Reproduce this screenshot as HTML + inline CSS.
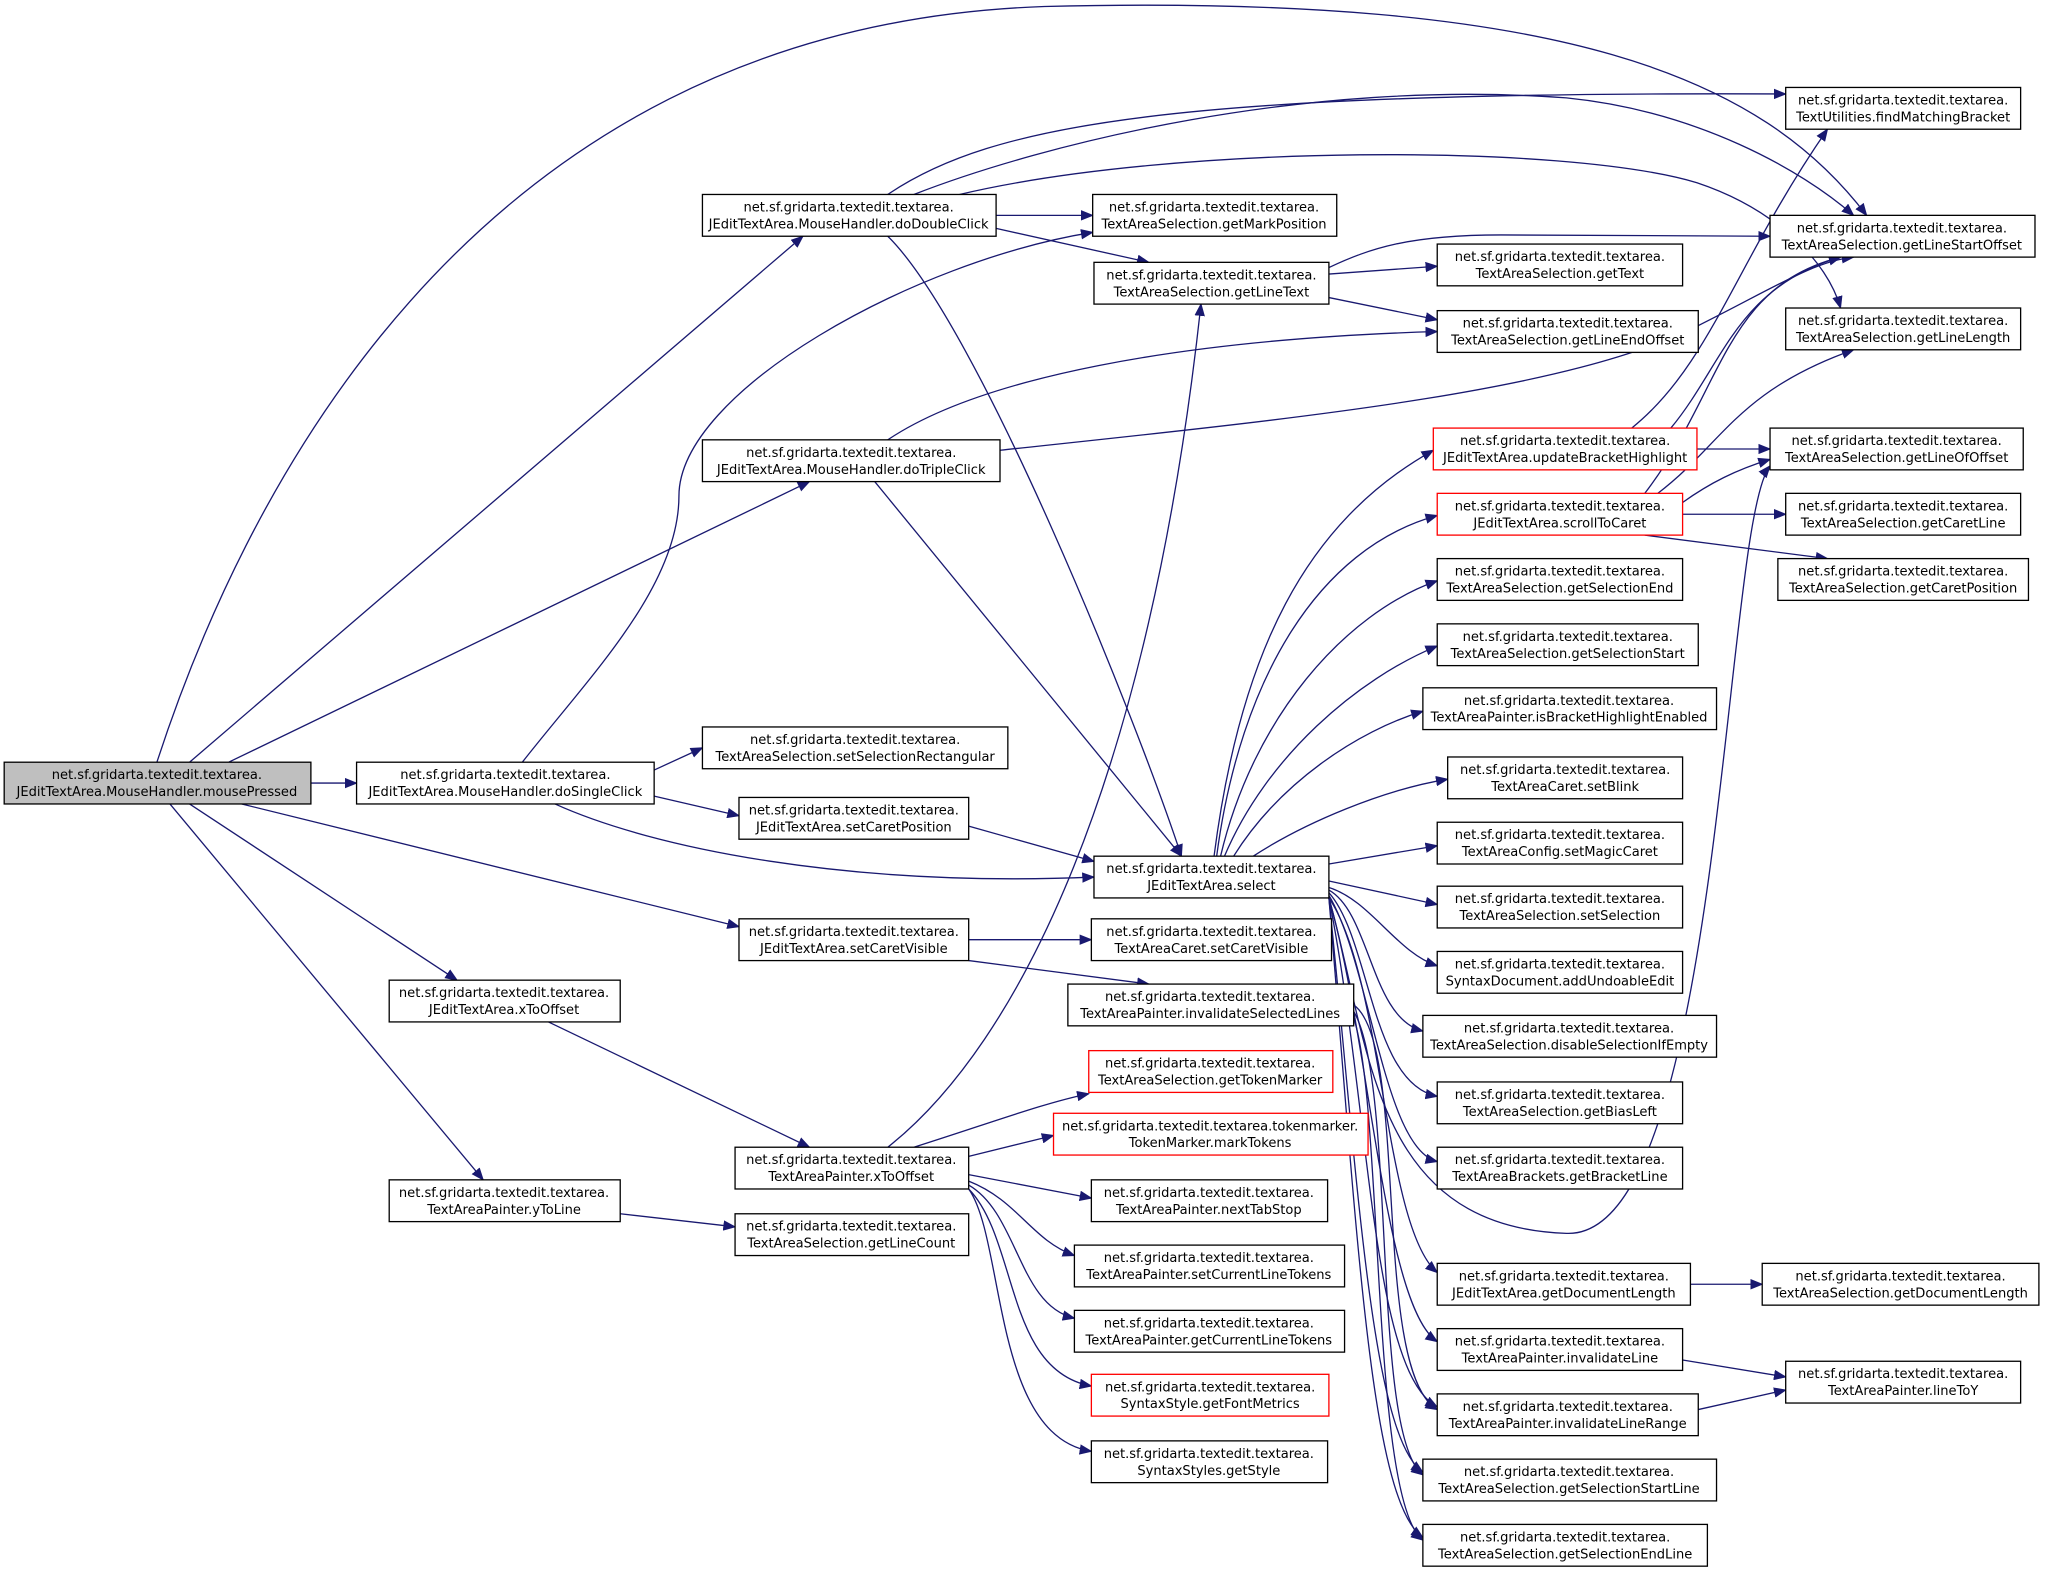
<!DOCTYPE html>
<html><head><meta charset="utf-8"><style>
html,body{margin:0;padding:0;background:#fff;}
svg text{font-family:"DejaVu Sans","Liberation Sans",sans-serif;font-size:10px;fill:#000;}
</style></head><body>
<svg width="2047" height="1574" viewBox="0 0 1568 1206" xmlns="http://www.w3.org/2000/svg">
<defs><marker id="a" markerWidth="10" markerHeight="8" refX="9" refY="4" orient="auto" markerUnits="userSpaceOnUse"><path d="M0,0 L10,4 L0,8 z" fill="#191970"/></marker></defs>
<g fill="none" stroke="#191970" stroke-width="1" marker-end="url(#a)">
<path d="M145,584 L615,181"/>
<path d="M175,584 L620,369"/>
<path d="M120,584 C180,400 350,20 800,5 C1200,-5 1350,60 1430,165"/>
<path d="M238,600 L273,600"/>
<path d="M185,616 L566,710"/>
<path d="M145,616 L350,751"/>
<path d="M130,616 L370,904"/>
<path d="M680,149 C760,95 900,70 1368,72"/>
<path d="M700,149 C800,110 1000,60 1200,75 C1300,85 1380,130 1420,165"/>
<path d="M735,149 C900,110 1200,110 1300,140 C1360,160 1400,200 1410,236"/>
<path d="M763,165 L837,165"/>
<path d="M763,175 L880,201"/>
<path d="M680,181 C750,250 870,550 905,656"/>
<path d="M680,337 C750,290 900,260 1101,254"/>
<path d="M766,345 C1000,320 1200,300 1300,250 C1360,220 1390,200 1420,197"/>
<path d="M670,369 L905,656"/>
<path d="M400,584 C450,520 520,450 520,380 C520,300 700,200 837,178"/>
<path d="M501,590 L538,573"/>
<path d="M501,610 L566,625"/>
<path d="M425,616 C500,650 650,680 838,672"/>
<path d="M742,633 L838,660"/>
<path d="M742,720 L836,720"/>
<path d="M742,736 L880,754"/>
<path d="M420,783 L620,879"/>
<path d="M475,930 L563,940"/>
<path d="M680,879 C780,800 880,600 920,233"/>
<path d="M700,879 C760,860 800,845 834,838"/>
<path d="M742,886 L807,870"/>
<path d="M742,900 L836,918"/>
<path d="M742,905 C780,920 790,950 823,962"/>
<path d="M742,908 C780,930 780,1000 823,1010"/>
<path d="M742,911 C780,950 770,1050 836,1062"/>
<path d="M742,911 C770,950 760,1100 836,1112"/>
<path d="M1018,205 C1050,190 1080,180 1150,180 L1356,181"/>
<path d="M1018,210 L1101,204"/>
<path d="M1018,228 L1101,245"/>
<path d="M930,656 C950,500 1000,400 1098,345"/>
<path d="M932,656 C950,520 1010,420 1101,395"/>
<path d="M935,656 C960,550 1030,470 1101,445"/>
<path d="M938,656 C970,580 1040,520 1101,495"/>
<path d="M945,656 C980,600 1040,560 1090,545"/>
<path d="M960,656 C1000,630 1060,605 1109,597"/>
<path d="M1018,662 L1101,648"/>
<path d="M1018,675 L1101,693"/>
<path d="M1018,680 C1050,690 1070,730 1101,740"/>
<path d="M1018,682 C1050,700 1050,780 1090,790"/>
<path d="M1018,684 C1050,720 1050,830 1101,840"/>
<path d="M1018,686 C1050,740 1060,880 1101,890"/>
<path d="M1018,688 C1050,800 1050,940 1200,945 C1320,950 1320,400 1356,357"/>
<path d="M1018,688 C1060,750 1060,940 1101,975"/>
<path d="M1018,688 C1050,800 1060,1000 1101,1028"/>
<path d="M1018,688 C1050,850 1050,1050 1101,1078"/>
<path d="M1018,688 C1040,900 1050,1100 1090,1128"/>
<path d="M1018,688 C1040,950 1050,1150 1090,1178"/>
<path d="M1037,770 C1080,800 1050,1050 1101,1080"/>
<path d="M1037,775 C1070,830 1050,1100 1090,1130"/>
<path d="M1037,780 C1060,850 1050,1150 1090,1180"/>
<path d="M1250,328 C1310,280 1330,200 1400,99"/>
<path d="M1280,328 C1320,280 1330,220 1410,197"/>
<path d="M1300,344 L1356,344"/>
<path d="M1260,378 C1320,300 1320,220 1410,197"/>
<path d="M1270,378 C1320,340 1330,300 1420,268"/>
<path d="M1289,385 C1310,370 1330,360 1356,352"/>
<path d="M1289,394 L1368,394"/>
<path d="M1260,410 L1400,428"/>
<path d="M1295,984 L1350,984"/>
<path d="M1289,1042 L1368,1055"/>
<path d="M1301,1080 L1368,1065"/>
</g>
<g stroke="#000" stroke-width="1" fill="#fff">
<rect x="3" y="584" width="235" height="32" fill="#bfbfbf"/>
<rect x="538" y="149" width="225" height="32"/>
<rect x="538" y="337" width="228" height="32"/>
<rect x="273" y="584" width="228" height="32"/>
<rect x="538" y="557" width="234" height="32"/>
<rect x="566" y="611" width="176" height="32"/>
<rect x="566" y="704" width="176" height="32"/>
<rect x="298" y="751" width="177" height="32"/>
<rect x="298" y="904" width="177" height="32"/>
<rect x="563" y="879" width="179" height="32"/>
<rect x="563" y="930" width="179" height="32"/>
<rect x="837" y="149" width="187" height="32"/>
<rect x="838" y="201" width="180" height="32"/>
<rect x="838" y="656" width="180" height="32"/>
<rect x="836" y="704" width="184" height="32"/>
<rect x="818" y="754" width="219" height="32"/>
<rect x="834" y="805" width="187" height="32" stroke="#f00"/>
<rect x="807" y="853" width="241" height="32" stroke="#f00"/>
<rect x="836" y="904" width="181" height="32"/>
<rect x="823" y="954" width="207" height="32"/>
<rect x="823" y="1004" width="207" height="32"/>
<rect x="836" y="1053" width="182" height="32" stroke="#f00"/>
<rect x="836" y="1104" width="181" height="32"/>
<rect x="1368" y="67" width="180" height="32"/>
<rect x="1356" y="165" width="203" height="32"/>
<rect x="1368" y="236" width="180" height="32"/>
<rect x="1101" y="187" width="188" height="32"/>
<rect x="1101" y="238" width="200" height="32"/>
<rect x="1098" y="328" width="202" height="32" stroke="#f00"/>
<rect x="1101" y="378" width="188" height="32" stroke="#f00"/>
<rect x="1101" y="428" width="188" height="32"/>
<rect x="1101" y="478" width="200" height="32"/>
<rect x="1090" y="527" width="225" height="32"/>
<rect x="1109" y="580" width="180" height="32"/>
<rect x="1101" y="630" width="188" height="32"/>
<rect x="1101" y="679" width="188" height="32"/>
<rect x="1101" y="729" width="188" height="32"/>
<rect x="1090" y="778" width="225" height="32"/>
<rect x="1101" y="829" width="188" height="32"/>
<rect x="1101" y="879" width="188" height="32"/>
<rect x="1101" y="968" width="194" height="32"/>
<rect x="1101" y="1018" width="188" height="32"/>
<rect x="1101" y="1068" width="200" height="32"/>
<rect x="1090" y="1118" width="225" height="32"/>
<rect x="1090" y="1168" width="218" height="32"/>
<rect x="1356" y="328" width="194" height="32"/>
<rect x="1368" y="378" width="180" height="32"/>
<rect x="1362" y="428" width="192" height="32"/>
<rect x="1350" y="968" width="212" height="32"/>
<rect x="1368" y="1043" width="180" height="32"/>
</g>
<g text-anchor="middle">
<text x="120" y="597">net.sf.gridarta.textedit.textarea.</text><text x="120" y="610">JEditTextArea.MouseHandler.mousePressed</text>
<text x="650" y="162">net.sf.gridarta.textedit.textarea.</text><text x="650" y="175">JEditTextArea.MouseHandler.doDoubleClick</text>
<text x="652" y="350">net.sf.gridarta.textedit.textarea.</text><text x="652" y="363">JEditTextArea.MouseHandler.doTripleClick</text>
<text x="387" y="597">net.sf.gridarta.textedit.textarea.</text><text x="387" y="610">JEditTextArea.MouseHandler.doSingleClick</text>
<text x="655" y="570">net.sf.gridarta.textedit.textarea.</text><text x="655" y="583">TextAreaSelection.setSelectionRectangular</text>
<text x="654" y="624">net.sf.gridarta.textedit.textarea.</text><text x="654" y="637">JEditTextArea.setCaretPosition</text>
<text x="654" y="717">net.sf.gridarta.textedit.textarea.</text><text x="654" y="730">JEditTextArea.setCaretVisible</text>
<text x="386" y="764">net.sf.gridarta.textedit.textarea.</text><text x="386" y="777">JEditTextArea.xToOffset</text>
<text x="386" y="917">net.sf.gridarta.textedit.textarea.</text><text x="386" y="930">TextAreaPainter.yToLine</text>
<text x="652" y="892">net.sf.gridarta.textedit.textarea.</text><text x="652" y="905">TextAreaPainter.xToOffset</text>
<text x="652" y="943">net.sf.gridarta.textedit.textarea.</text><text x="652" y="956">TextAreaSelection.getLineCount</text>
<text x="930" y="162">net.sf.gridarta.textedit.textarea.</text><text x="930" y="175">TextAreaSelection.getMarkPosition</text>
<text x="928" y="214">net.sf.gridarta.textedit.textarea.</text><text x="928" y="227">TextAreaSelection.getLineText</text>
<text x="928" y="669">net.sf.gridarta.textedit.textarea.</text><text x="928" y="682">JEditTextArea.select</text>
<text x="928" y="717">net.sf.gridarta.textedit.textarea.</text><text x="928" y="730">TextAreaCaret.setCaretVisible</text>
<text x="927" y="767">net.sf.gridarta.textedit.textarea.</text><text x="927" y="780">TextAreaPainter.invalidateSelectedLines</text>
<text x="927" y="818">net.sf.gridarta.textedit.textarea.</text><text x="927" y="831">TextAreaSelection.getTokenMarker</text>
<text x="927" y="866">net.sf.gridarta.textedit.textarea.tokenmarker.</text><text x="927" y="879">TokenMarker.markTokens</text>
<text x="926" y="917">net.sf.gridarta.textedit.textarea.</text><text x="926" y="930">TextAreaPainter.nextTabStop</text>
<text x="926" y="967">net.sf.gridarta.textedit.textarea.</text><text x="926" y="980">TextAreaPainter.setCurrentLineTokens</text>
<text x="926" y="1017">net.sf.gridarta.textedit.textarea.</text><text x="926" y="1030">TextAreaPainter.getCurrentLineTokens</text>
<text x="927" y="1066">net.sf.gridarta.textedit.textarea.</text><text x="927" y="1079">SyntaxStyle.getFontMetrics</text>
<text x="926" y="1117">net.sf.gridarta.textedit.textarea.</text><text x="926" y="1130">SyntaxStyles.getStyle</text>
<text x="1458" y="80">net.sf.gridarta.textedit.textarea.</text><text x="1458" y="93">TextUtilities.findMatchingBracket</text>
<text x="1457" y="178">net.sf.gridarta.textedit.textarea.</text><text x="1457" y="191">TextAreaSelection.getLineStartOffset</text>
<text x="1458" y="249">net.sf.gridarta.textedit.textarea.</text><text x="1458" y="262">TextAreaSelection.getLineLength</text>
<text x="1195" y="200">net.sf.gridarta.textedit.textarea.</text><text x="1195" y="213">TextAreaSelection.getText</text>
<text x="1201" y="251">net.sf.gridarta.textedit.textarea.</text><text x="1201" y="264">TextAreaSelection.getLineEndOffset</text>
<text x="1199" y="341">net.sf.gridarta.textedit.textarea.</text><text x="1199" y="354">JEditTextArea.updateBracketHighlight</text>
<text x="1195" y="391">net.sf.gridarta.textedit.textarea.</text><text x="1195" y="404">JEditTextArea.scrollToCaret</text>
<text x="1195" y="441">net.sf.gridarta.textedit.textarea.</text><text x="1195" y="454">TextAreaSelection.getSelectionEnd</text>
<text x="1201" y="491">net.sf.gridarta.textedit.textarea.</text><text x="1201" y="504">TextAreaSelection.getSelectionStart</text>
<text x="1202" y="540">net.sf.gridarta.textedit.textarea.</text><text x="1202" y="553">TextAreaPainter.isBracketHighlightEnabled</text>
<text x="1199" y="593">net.sf.gridarta.textedit.textarea.</text><text x="1199" y="606">TextAreaCaret.setBlink</text>
<text x="1195" y="643">net.sf.gridarta.textedit.textarea.</text><text x="1195" y="656">TextAreaConfig.setMagicCaret</text>
<text x="1195" y="692">net.sf.gridarta.textedit.textarea.</text><text x="1195" y="705">TextAreaSelection.setSelection</text>
<text x="1195" y="742">net.sf.gridarta.textedit.textarea.</text><text x="1195" y="755">SyntaxDocument.addUndoableEdit</text>
<text x="1202" y="791">net.sf.gridarta.textedit.textarea.</text><text x="1202" y="804">TextAreaSelection.disableSelectionIfEmpty</text>
<text x="1195" y="842">net.sf.gridarta.textedit.textarea.</text><text x="1195" y="855">TextAreaSelection.getBiasLeft</text>
<text x="1195" y="892">net.sf.gridarta.textedit.textarea.</text><text x="1195" y="905">TextAreaBrackets.getBracketLine</text>
<text x="1198" y="981">net.sf.gridarta.textedit.textarea.</text><text x="1198" y="994">JEditTextArea.getDocumentLength</text>
<text x="1195" y="1031">net.sf.gridarta.textedit.textarea.</text><text x="1195" y="1044">TextAreaPainter.invalidateLine</text>
<text x="1201" y="1081">net.sf.gridarta.textedit.textarea.</text><text x="1201" y="1094">TextAreaPainter.invalidateLineRange</text>
<text x="1202" y="1131">net.sf.gridarta.textedit.textarea.</text><text x="1202" y="1144">TextAreaSelection.getSelectionStartLine</text>
<text x="1199" y="1181">net.sf.gridarta.textedit.textarea.</text><text x="1199" y="1194">TextAreaSelection.getSelectionEndLine</text>
<text x="1453" y="341">net.sf.gridarta.textedit.textarea.</text><text x="1453" y="354">TextAreaSelection.getLineOfOffset</text>
<text x="1458" y="391">net.sf.gridarta.textedit.textarea.</text><text x="1458" y="404">TextAreaSelection.getCaretLine</text>
<text x="1458" y="441">net.sf.gridarta.textedit.textarea.</text><text x="1458" y="454">TextAreaSelection.getCaretPosition</text>
<text x="1456" y="981">net.sf.gridarta.textedit.textarea.</text><text x="1456" y="994">TextAreaSelection.getDocumentLength</text>
<text x="1458" y="1056">net.sf.gridarta.textedit.textarea.</text><text x="1458" y="1069">TextAreaPainter.lineToY</text>
</g>
</svg>
</body></html>
